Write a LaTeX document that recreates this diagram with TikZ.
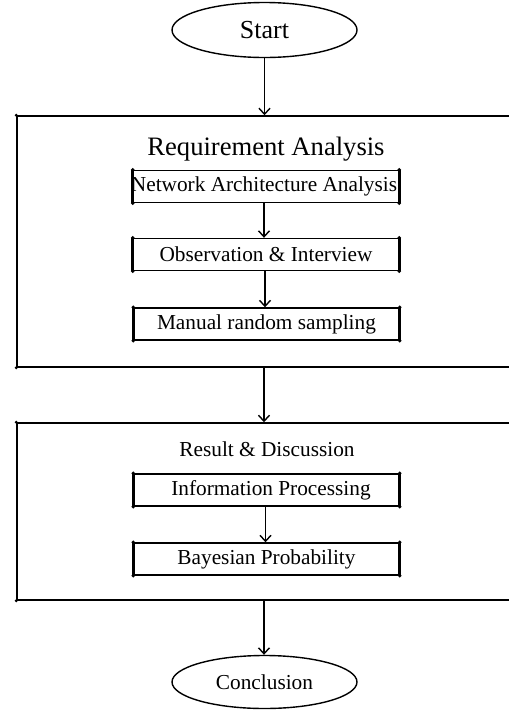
\documentclass[tikz,border=0pt]{standalone}
\usepackage{fontspec}
\setmainfont{Liberation Serif}
\usetikzlibrary{shapes.geometric,arrows.meta}
\begin{document}
\begin{tikzpicture}[x=1pt,y=-1pt,
  every node/.style={font=\fontsize{21.3}{24}\selectfont},
  terminal/.style={draw,ellipse,line width=1.4pt,minimum width=185pt,minimum height=55pt,inner sep=0pt},
  phase/.style={draw,line width=1.5pt,minimum width=494pt,inner sep=0pt},
  stepbox/.style={draw,line width=1.4pt,minimum width=265pt,minimum height=32pt,inner sep=0pt},
  flow/.style={line width=1.4pt,-{Straight Barb[length=6pt,width=11pt,line width=1.4pt]}},
  dot/.style={circle,fill,inner sep=0pt,minimum size=4pt}
]
\useasboundingbox (0,0) rectangle (509,710);
% terminals
\node[terminal,font=\fontsize{26}{28}\selectfont] (start) at (264.5,30) {Start};
\node[terminal,minimum height=53pt] (concl) at (264.5,682) {Conclusion};
% phases
\node[phase,minimum height=251pt] (req) at (264,241.5) {};
\node[phase,minimum height=177pt] (res) at (264,511.5) {};
\node[font=\fontsize{26.6}{30}\selectfont] (reqt) at (266,149) {Requirement Analysis};
\node (rest) at (267,449) {Result \& Discussion};
% steps
\node[stepbox] (net) at (266,186.5) {};
\node (nett) at (264,186) {Network Architecture Analysis};
\node[stepbox] (obs) at (266,254.5) {Observation \& Interview};
\node[stepbox] (man) at (266.5,324) {Manual random sampling};
\node[stepbox] (info) at (266.5,490) {\hspace{9pt}Information Processing};
\node[stepbox] (bay) at (266.5,559) {Bayesian Probability};
% thick sides and corner dots
\foreach \n in {net,obs,man,info,bay}{
  \draw[line width=2.8pt] (\n.north west) -- (\n.south west);
  \draw[line width=2.8pt] (\n.north east) -- (\n.south east);
  \foreach \a in {north west,north east,south west,south east}
    \node[dot,minimum size=3.8pt] at (\n.\a) {};
}
\foreach \a in {north west,south west}{
  \node[dot,minimum size=3.2pt] at (req.\a) {};
  \node[dot,minimum size=3.2pt] at (res.\a) {};
}
% connectors
\draw[flow] (start.south) -- (start.south |- req.north);
\draw[flow] (net.south) ++(-2,0) coordinate (a1) -- (a1 |- obs.north);
\draw[flow] (obs.south) ++(-1,0) coordinate (a2) -- (a2 |- man.north);
\draw[flow] (req.south) -- (req.south |- res.north);
\draw[flow] (info.south) ++(-1,0) coordinate (a3) -- (a3 |- bay.north);
\draw[flow] (res.south) -- (res.south |- concl.north);
\end{tikzpicture}
\end{document}
